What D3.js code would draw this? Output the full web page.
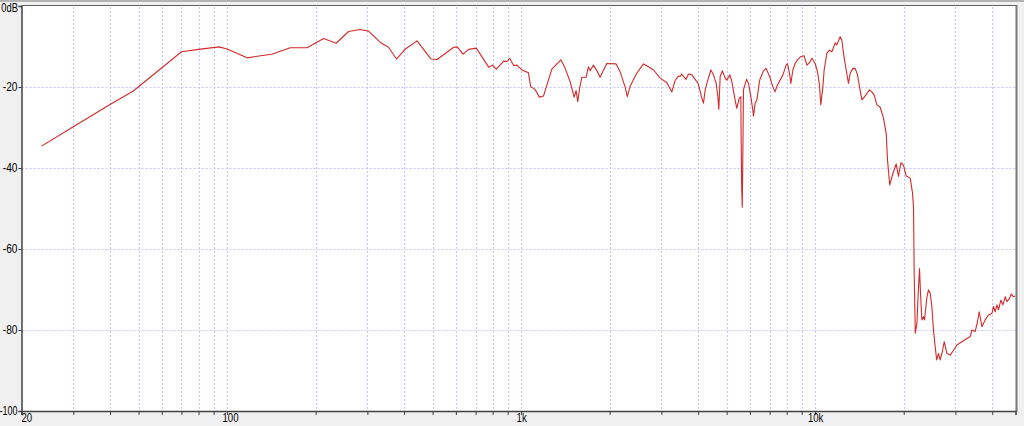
<!DOCTYPE html>
<html><head><meta charset="utf-8">
<script src="https://cdn.jsdelivr.net/npm/d3@7"></script>
<style>
html,body{margin:0;padding:0;background:#f0f0f0;}
svg{display:block;}
text{font-family:"Liberation Sans","DejaVu Sans",sans-serif;font-size:12px;fill:#000;}
</style></head><body>
<svg id="c" width="1024" height="426"></svg>
<script>
const freqs = [23.4,30,40,48,70,80,94,100,117,130,142,164,187,213,235,259,283,303,332,354,377,404,443,494,518,590,606,635,663,704,776,800,823,873,896,914,943,968,993,
1005,1059,1078,1116,1154,1192,1272,1365,1412,1468,1514,1538,1558,1578,1608,1663,1694,1717,1762,1817,1856,1956,2103,2170,2256,2297,2346,2474,2607,2712,2822,2970,3127,3256,3338,3428,
3474,3516,3640,3707,3807,3906,4000,4106,4169,4226,4282,4420,4510,4606,4667,4703,4753,4836,4942,5000,5130,5208,5341,5416,5515,5588,5600,5624,5650,5675,5704,5845,5931,6044,6138,6170,6250,6335,6475,6671,6810,7000,7177,7300,7441,7603,7765,7970,8050,8178,8267,8398,8551,8706,8941,9175,9371,9564,9746,10000,
10180,10342,10450,10622,10730,10959,11184,11396,11700,11852,12160,12325,12482,12747,12981,13155,13437,13682,13931,14150,14420,14678,14992,15298,15590,15874,16213,16640,17076,17441,17619,17925,18380,18860,19202,19567,19970,20400,21050,21430,21600,21710,21900,22180,22460,22640,22810,23070,23360,23540,23990,24290,24610,24940,25250,25590,25900,26270,26620,26980,27470,28050,28790,29540,30340,31550,32810,33670,34120,35010,35650,36130,36900,37860,38860,39900,40410,40950,41500,42020,42810,43480,44290,44870,45790,46420,47260,47890];
const levels = [-34.6,-29.8,-24.3,-21.0,-11.3,-10.7,-10.1,-10.6,-12.8,-12.3,-11.9,-10.3,-10.3,-8.0,-9.2,-6.3,-5.8,-6.2,-9.0,-10.2,-13.1,-10.6,-8.6,-13.1,-13.2,-10.2,-10.1,-11.9,-10.7,-10.4,-15.1,-14.6,-15.6,-13.6,-13.7,-12.9,-14.7,-14.6,-15.4,
-15.8,-16.5,-19.9,-20.6,-22.5,-22.2,-15.6,-13.3,-15.4,-18.7,-22.5,-20.9,-23.6,-20.7,-17.6,-17.6,-15.0,-16.0,-14.6,-16.2,-17.6,-14.2,-14.3,-16.2,-19.9,-22.4,-19.9,-16.6,-14.3,-15.0,-15.8,-17.8,-18.9,-21.2,-18.4,-17.3,
-17.4,-16.8,-18.1,-16.8,-17.0,-18.1,-19.1,-22.4,-24.0,-20.7,-19.1,-15.8,-17.0,-19.1,-22.4,-25.5,-17.4,-16.0,-17.8,-18.3,-17.0,-18.7,-23.2,-25.3,-22.8,-22.4,-32.3,-44.6,-49.7,-37.2,-20.7,-18.1,-19.1,-22.4,-25.7,-27.2,-24.0,-23.2,-18.3,-16.0,-15.4,-17.4,-19.9,-21.2,-19.5,-18.3,-17.0,-14.6,-14.2,-16.6,-19.1,-15.8,-14.2,-13.3,-12.5,-12.3,-14.6,-14.0,-12.9,-14.2,
-16.2,-19.5,-24.4,-19.9,-15.8,-11.7,-10.9,-11.3,-9.1,-9.6,-7.6,-8.4,-11.7,-15.8,-19.1,-16.6,-15.4,-15.4,-17.0,-19.9,-23.2,-22.5,-21.6,-20.7,-21.2,-22.0,-24.4,-25.0,-27.7,-31.5,-38.0,-44.2,-41.3,-39.0,-42.1,-38.7,-39.3,-42.0,-42.5,-46.2,-49.6,-66.0,-80.8,-78.4,-69.3,-64.8,-70.9,-77.5,-76.7,-77.5,-71.8,-70.1,-70.9,-74.2,-80.0,-84.1,-87.4,-85.8,-87.4,-85.8,-82.9,-85.8,-86.2,-85.0,-83.7,-82.9,-82.1,-81.6,-80.0,-80.4,-77.9,-75.5,-79.2,-77.5,-76.3,-75.9,-74.2,-75.5,-73.8,-75.0,-72.6,-73.8,-71.8,-73.0,-72.2,-71.1,-71.8,-71.6];

const yTicks = [0,-20,-40,-60,-80,-100];
const yTickLabels = ["0dB","-20","-40","-60","-80","-100"];
const xLabelFreqs = [20,100,1000,10000];
const xLabels = ["20","100","1k","10k"];
const gridFreqs = [30,40,50,60,70,80,90,100,200,300,400,500,600,700,800,900,1000,2000,3000,4000,5000,6000,7000,8000,9000,10000,20000,30000,40000];

const svg = d3.select("#c");
const L = 21.5, R = 1015.5, T = 6, B = 411;
const x = d3.scaleLog().domain([20,48000]).range([L,R]);
const y = d3.scaleLinear().domain([-100,0]).range([B,T]);

svg.append("rect").attr("x",0).attr("y",0).attr("width",1024).attr("height",2).attr("fill","#b4b4b4");
svg.append("rect").attr("x",L).attr("y",T).attr("width",R-L).attr("height",B-T).attr("fill","#fff");

const grid = svg.append("g").attr("stroke","#c4c4fa").attr("stroke-width",1).attr("stroke-dasharray","2,2").attr("fill","none");
grid.selectAll("line.v").data(gridFreqs).join("line")
  .attr("x1",d=>Math.round(x(d))+0.5).attr("x2",d=>Math.round(x(d))+0.5).attr("y1",T+1).attr("y2",B);
grid.selectAll("line.h").data(yTicks.filter(d=>d>-100 && d<0)).join("line")
  .attr("x1",L).attr("x2",R).attr("y1",d=>Math.round(y(d))+0.5).attr("y2",d=>Math.round(y(d))+0.5);

const line = d3.line().x((d,i)=>x(freqs[i])).y(d=>y(d));
svg.append("path").datum(levels).attr("d",line).attr("fill","none")
  .attr("stroke","#d42a2a").attr("stroke-width",1.1).attr("stroke-linejoin","round");

svg.append("line").attr("x1",L).attr("x2",R+1).attr("y1",T-0.5).attr("y2",T-0.5).attr("stroke","#606060").attr("stroke-width",1);
svg.append("line").attr("x1",R+1).attr("x2",R+1).attr("y1",T-1).attr("y2",B+1).attr("stroke","#7a7a7a").attr("stroke-width",2);

const font = "'Liberation Sans','DejaVu Sans',sans-serif";
const yAxis = d3.axisLeft(y).tickValues(yTicks).tickSize(3).tickFormat((d,i)=>yTickLabels[i]);
const gy = svg.append("g").attr("transform",`translate(${L},0)`).call(yAxis);
gy.select(".domain").attr("stroke","#404040").attr("stroke-width",1.5);
gy.selectAll(".tick line").attr("stroke","#404040");
gy.selectAll(".tick text").attr("x",0)
  .attr("transform",d=>d===-100?"translate(-4,0) scale(0.75,1)":(d===0?"translate(-3.5,1.5) scale(0.78,1)":"translate(-4,0) scale(0.85,1)"))
  .style("font-size","12px").style("font-family",font);

const xAxis = d3.axisBottom(x).tickValues([20].concat(gridFreqs)).tickSize(4)
  .tickFormat(d=>{const k=xLabelFreqs.indexOf(d);return k>=0?xLabels[k]:"";});
const gx = svg.append("g").attr("transform",`translate(0,${B})`).call(xAxis);
gx.select(".domain").attr("stroke","#404040").attr("stroke-width",1.5);
gx.selectAll(".tick line").attr("stroke","#404040");
gx.selectAll(".tick text").attr("y",2).attr("transform","scale(0.8,1)")
  .style("font-size","12px").style("font-family",font);
gx.selectAll(".tick text").filter(d=>d===20).attr("text-anchor","start").attr("transform","translate(-0.5,0) scale(0.8,1)");
gx.selectAll(".tick text").filter(d=>d===100).attr("transform","translate(3,0) scale(0.8,1)");
</script>
</body></html>
